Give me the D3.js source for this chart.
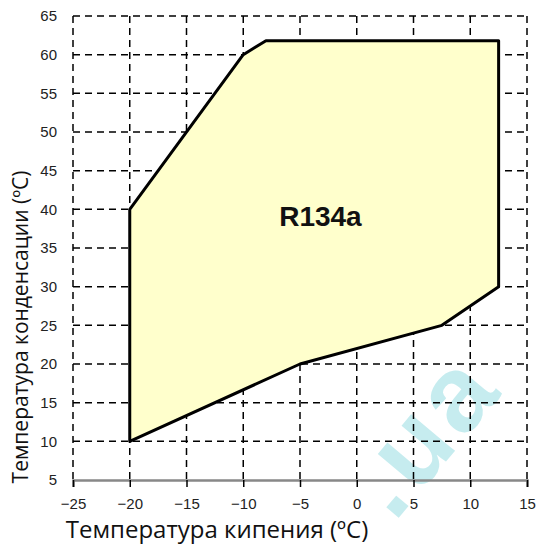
<!DOCTYPE html>
<html>
<head>
<meta charset="utf-8">
<script src="https://cdn.jsdelivr.net/npm/d3@7"></script>
<style>
  body { margin: 0; background: #fff; }
  svg { display: block; }
</style>
</head>
<body>
<script>
// envelope of R134a (evaporating temp, condensing temp)
var evapTemps = [-20, -20, -10, -8, 12.5, 12.5, 7.5, -5];
var condTemps = [10, 40, 60, 61.8, 61.8, 30, 25, 20];
var xTicks = [-25, -20, -15, -10, -5, 0, 5, 10, 15];
var yTicks = [5, 10, 15, 20, 25, 30, 35, 40, 45, 50, 55, 60, 65];
var refrigerant = "R134a";
var xTitle = "Температура кипения (ºC)";
var yTitle = "Температура конденсации  (ºC)";

var svgWidth = 543;
var svgHeight = 547;

var chartMargin = { top: 16, right: 16, bottom: 67, left: 73 };
var chartWidth = svgWidth - chartMargin.left - chartMargin.right;
var chartHeight = svgHeight - chartMargin.top - chartMargin.bottom;

var svg = d3.select("body")
  .append("svg")
  .attr("width", svgWidth)
  .attr("height", svgHeight);

// faint watermark behind the chart
svg.append("text")
  .attr("transform", "translate(506,390) rotate(-50)")
  .attr("text-anchor", "end")
  .attr("font-family", "Arial, 'Liberation Sans', sans-serif")
  .attr("font-weight", "bold")
  .attr("font-size", 108)
  .attr("letter-spacing", 6)
  .attr("fill", "#c6ecef")
  .text(".ua");

var chartGroup = svg.append("g")
  .attr("transform", `translate(${chartMargin.left}, ${chartMargin.top})`);

var xScale = d3.scaleLinear()
  .domain([-25, 15])
  .range([0, chartWidth]);

var yScale = d3.scaleLinear()
  .domain([5, 65])
  .range([chartHeight, 0]);

// dashed grid
chartGroup.append("g")
  .selectAll("line")
  .data(yTicks.filter(d => d > 5))
  .enter()
  .append("line")
  .attr("x1", 0)
  .attr("x2", chartWidth)
  .attr("y1", d => yScale(d))
  .attr("y2", d => yScale(d))
  .attr("stroke", "#000")
  .attr("stroke-width", 1.5)
  .attr("stroke-dasharray", "7,5");

chartGroup.append("g")
  .selectAll("line")
  .data(xTicks)
  .enter()
  .append("line")
  .attr("x1", d => xScale(d))
  .attr("x2", d => xScale(d))
  .attr("y1", 0)
  .attr("y2", chartHeight)
  .attr("stroke", "#000")
  .attr("stroke-width", 1.5)
  .attr("stroke-dasharray", "7,5");

// envelope polygon
var pts = evapTemps.map((t, i) => [xScale(t), yScale(condTemps[i])]);
chartGroup.append("path")
  .attr("d", d3.line()(pts) + "Z")
  .attr("fill", "#ffffcc")
  .attr("stroke", "#000")
  .attr("stroke-width", 3)
  .attr("stroke-linejoin", "round");

chartGroup.append("text")
  .attr("x", xScale(-3.2))
  .attr("y", yScale(37.8))
  .attr("text-anchor", "middle")
  .attr("font-family", "Arial, 'Liberation Sans', sans-serif")
  .attr("font-weight", "bold")
  .attr("font-size", 28)
  .attr("fill", "#111")
  .text(refrigerant);

// bottom axis
var bottomAxis = d3.axisBottom(xScale).tickValues(xTicks).tickSize(7).tickPadding(11);
var xAxisG = chartGroup.append("g")
  .attr("transform", `translate(0, ${chartHeight})`)
  .call(bottomAxis);
xAxisG.select(".domain").attr("stroke", "#888").attr("stroke-width", 2.5);
xAxisG.selectAll(".tick line").attr("stroke", "#000").attr("stroke-width", 1.5);
xAxisG.selectAll("text")
  .attr("font-family", "Arial, 'Liberation Sans', sans-serif")
  .attr("font-size", 15)
  .attr("fill", "#222");

// left axis labels only
var leftAxis = d3.axisLeft(yScale).tickValues(yTicks).tickSize(0).tickPadding(16);
var yAxisG = chartGroup.append("g").call(leftAxis);
yAxisG.select(".domain").remove();
yAxisG.selectAll("text")
  .attr("font-family", "Arial, 'Liberation Sans', sans-serif")
  .attr("font-size", 15)
  .attr("fill", "#222");

// axis titles
svg.append("text")
  .attr("x", 217)
  .attr("y", 538)
  .attr("text-anchor", "middle")
  .attr("font-family", "'Open Sans', 'Noto Sans', sans-serif")
  .attr("font-size", 24)
  .attr("fill", "#111")
  .text(xTitle);

svg.append("text")
  .attr("transform", "translate(28, 327) rotate(-90)")
  .attr("text-anchor", "middle")
  .attr("font-family", "'Open Sans', 'Noto Sans', sans-serif")
  .attr("font-size", 21)
  .attr("fill", "#111")
  .text(yTitle);
</script>
</body>
</html>
